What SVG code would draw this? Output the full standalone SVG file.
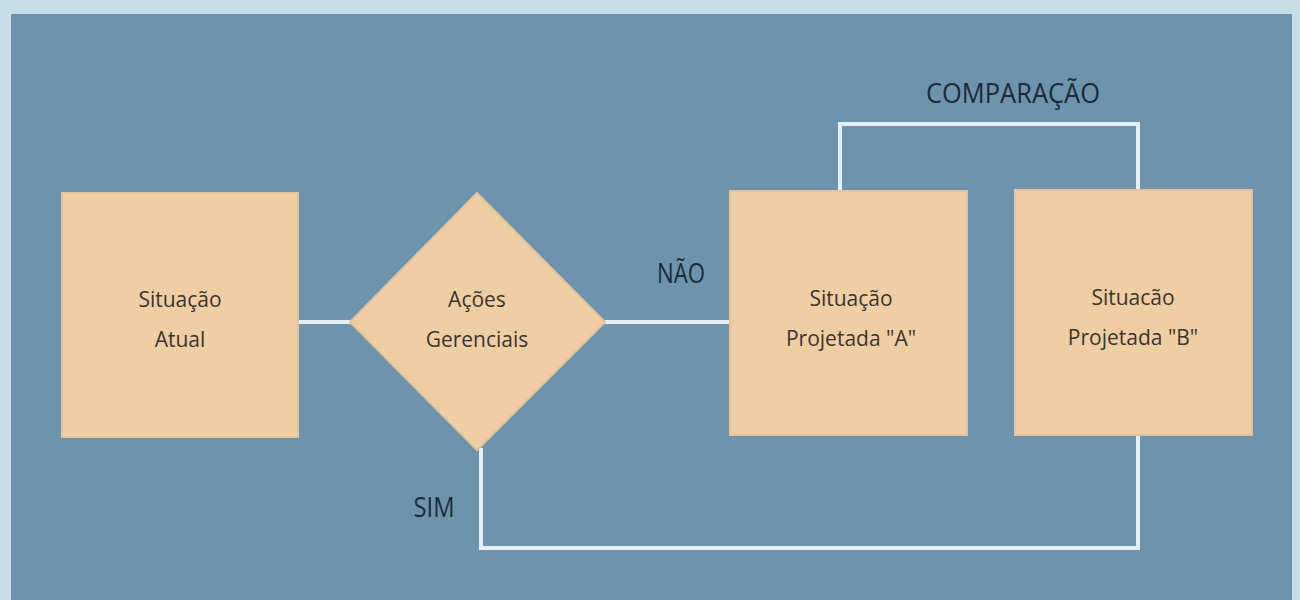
<svg xmlns="http://www.w3.org/2000/svg" width="1300" height="600" viewBox="0 0 1300 600">
<style>
.node{fill:#f0cea4;stroke:#e3c39c;stroke-width:2}
.lbl{font-family:"Open Sans","Liberation Sans",sans-serif;font-size:21px;fill:#3a3530;text-anchor:middle}
.edge{font-family:"Open Sans","Liberation Sans",sans-serif;font-size:28px;fill:#1a2c3c;text-anchor:middle}
.conn{fill:none;stroke:#e4f0f6;stroke-width:4}
</style>
<rect width="1300" height="600" fill="#c7dde8"/>
<rect x="11" y="14" width="1281" height="586" fill="#6d94ac"/>
<g id="connectors">
<line class="conn" x1="296" y1="322" x2="352" y2="322"/>
<line class="conn" x1="603" y1="322" x2="732" y2="322"/>
<polyline class="conn" points="840,191 840,124 1138,124 1138,190"/>
<polyline class="conn" points="481,448 481,548 1138,548 1138,435"/>
</g>
<g id="atual">
<rect class="node" x="62" y="193" width="236" height="244"/>
<text class="lbl" x="180" y="307">Situação</text>
<text class="lbl" x="180" y="347">Atual</text>
</g>
<g id="acoes">
<polygon class="node" points="477,193 605,322 477,450 350,322"/>
<text class="lbl" x="477" y="307">Ações</text>
<text class="lbl" x="477" y="347">Gerenciais</text>
</g>
<g id="projA">
<rect class="node" x="730" y="191" width="237" height="244"/>
<text class="lbl" x="851" y="306">Situação</text>
<text class="lbl" x="851" y="346">Projetada "A"</text>
</g>
<g id="projB">
<rect class="node" x="1015" y="190" width="237" height="245"/>
<text class="lbl" x="1133" y="305">Situacão</text>
<text class="lbl" x="1133" y="345">Projetada "B"</text>
</g>
<g id="labels">
<text class="edge" x="681" y="283" textLength="48" lengthAdjust="spacingAndGlyphs">NÃO</text>
<text class="edge" x="1013" y="103" textLength="174" lengthAdjust="spacingAndGlyphs">COMPARAÇÃO</text>
<text class="edge" x="434" y="517" textLength="41" lengthAdjust="spacingAndGlyphs">SIM</text>
</g>
</svg>
